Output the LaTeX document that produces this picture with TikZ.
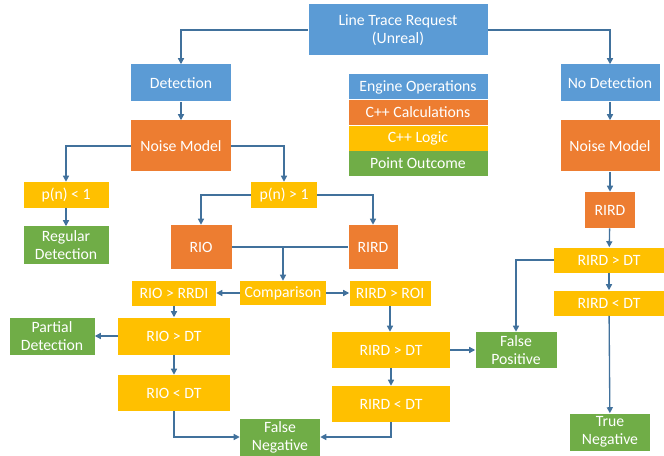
\documentclass[tikz,border=0pt]{standalone}
\usepackage{fontspec}
\setmainfont{Carlito}
\usetikzlibrary{arrows.meta,positioning}
\definecolor{engblue}{RGB}{91,155,213}
\definecolor{calcorange}{RGB}{237,125,49}
\definecolor{logicyellow}{RGB}{255,192,0}
\definecolor{outgreen}{RGB}{112,173,71}
\definecolor{linkblue}{RGB}{65,113,156}

\begin{document}
\begin{tikzpicture}[
    x=0.75pt, y=-0.75pt,
    box/.style={inner sep=1pt, text=white, align=center, font=\fontsize{11.8}{13.5}\selectfont},
    sz/.style 2 args={minimum width=#1*0.75pt, minimum height=#2*0.75pt},
    engine/.style={box, fill=engblue},
    calc/.style={box, fill=calcorange},
    logic/.style={box, fill=logicyellow},
    outcome/.style={box, fill=outgreen},
    link/.style={draw=linkblue, line width=1pt},
    arr/.style={link, -{Triangle[length=4.5pt,width=4.5pt]}}
  ]
  \useasboundingbox (0,0) rectangle (664,456);

  % top request
  \node[engine, sz={179}{51}] (ltr) at (398,30) {Line Trace Request\\(Unreal)};

  % detection branch
  \node[engine, sz={100}{37}] (det) at (181,83) {Detection};
  \node[calc, sz={100}{51}] (nml) at (181,146) {Noise Model};
  \node[logic, sz={85}{26}] (plt) at (66,195) {p(n) < 1};
  \node[outcome, sz={85}{37}] (rdet) at (66,245) {Regular\\Detection};
  \node[logic, sz={66}{26}] (pgt) at (284,195) {p(n) > 1};
  \node[calc, sz={61}{44}] (rio) at (201,247) {RIO};
  \node[calc, sz={49}{44}] (rirdm) at (373,247) {RIRD};
  \node[logic, sz={86}{24}] (comp) at (283,293) {Comparison};
  \node[logic, sz={84}{25}] (riordi) at (174,293) {RIO > RRDI};
  \node[logic, sz={81}{25}] (rirdroi) at (390,293) {RIRD > ROI};
  \node[outcome, sz={85}{37}] (pdet) at (52,336) {Partial\\Detection};
  \node[logic, sz={112}{37}] (riogt) at (174,336) {RIO > DT};
  \node[logic, sz={112}{36}] (riolt) at (174,393) {RIO < DT};
  \node[outcome, sz={80}{37}] (fneg) at (280,437) {False\\Negative};
  \node[logic, sz={118}{36}] (rirdgt) at (391,350) {RIRD > DT};
  \node[logic, sz={118}{36}] (rirdlt) at (391,404) {RIRD < DT};
  \node[outcome, sz={81}{36}] (fpos) at (516,350) {False\\Positive};

  % no detection branch
  \node[engine, sz={99}{37}] (nodet) at (610,83) {No Detection};
  \node[calc, sz={99}{51}] (nmr) at (610,146) {Noise Model};
  \node[calc, sz={50}{36}] (rirdr) at (610,210) {RIRD};
  \node[logic, sz={110}{25}] (rirdgtr) at (609,260) {RIRD > DT};
  \node[logic, sz={110}{25}] (rirdltr) at (609,303) {RIRD < DT};
  \node[outcome, sz={80}{37}] (tneg) at (610,432) {True\\Negative};

  % legend
  \node[engine, sz={139}{25}] (leg1) at (418,87) {Engine Operations};
  \node[calc, sz={139}{25}, below=0pt of leg1] (leg2) {C++ Calculations};
  \node[logic, sz={139}{25}, below=0pt of leg2] (leg3) {C++ Logic};
  \node[outcome, sz={139}{25}, below=0pt of leg3] (leg4) {Point Outcome};

  % connectors
  \draw[arr] (ltr.west) -| (det.north);
  \draw[arr] (ltr.east) -| (nodet.north);
  \draw[arr] (det) -- (nml);
  \draw[arr] (nml.west) -| (plt.north);
  \draw[arr] (nml.east) -| (pgt.north);
  \draw[arr] (plt) -- (rdet);
  \draw[arr] (pgt.west) -| (rio.north);
  \draw[arr] (pgt.east) -| (rirdm.north);
  \draw[link] (rio.east) -- (rirdm.west);
  \draw[arr] (comp.north |- rio.east) -- (comp.north);
  \draw[arr] (comp) -- (riordi);
  \draw[arr] (comp) -- (rirdroi);
  \draw[arr] (riordi) -- (riogt);
  \draw[arr] (riogt) -- (pdet);
  \draw[arr] (riogt) -- (riolt);
  \draw[arr] (riolt.south) |- (fneg.west);
  \draw[arr] (rirdroi) -- (rirdroi |- rirdgt.north);
  \draw[arr] (rirdgt) -- (fpos);
  \draw[arr] (rirdgt) -- (rirdlt);
  \draw[arr] (rirdlt.south) |- (fneg.east);
  \draw[arr] (nodet) -- (nmr);
  \draw[arr] (nmr) -- (rirdr);
  \draw[arr] (rirdr) -- (rirdgtr);
  \draw[arr] (rirdgtr) -- (rirdltr);
  \draw[arr] (rirdltr) -- (tneg);
  \draw[arr] (rirdgtr.west) -| (fpos.north);
\end{tikzpicture}
\end{document}
